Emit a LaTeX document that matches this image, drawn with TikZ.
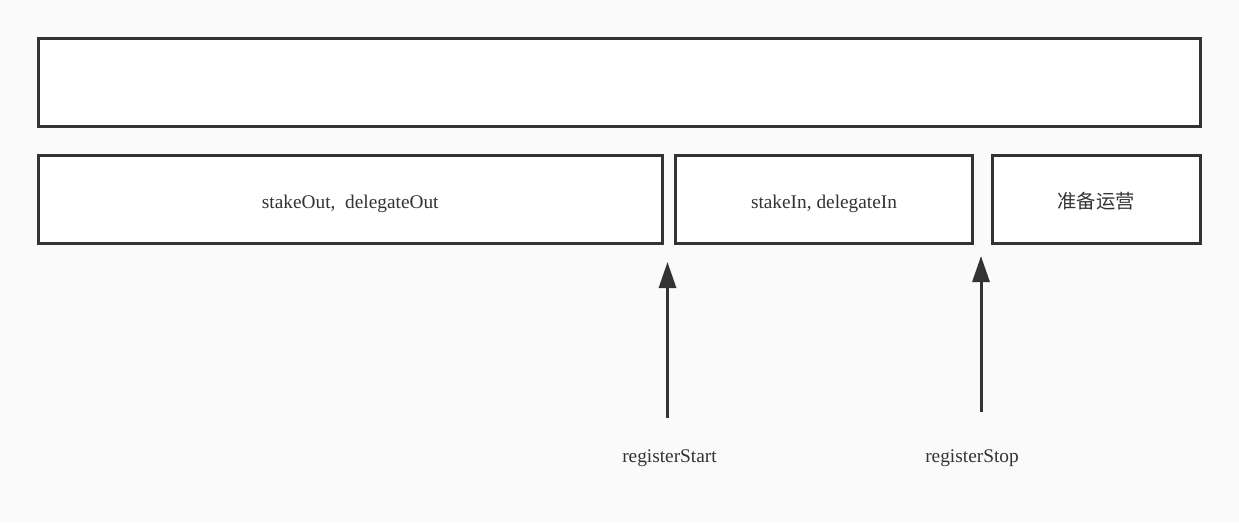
\documentclass[tikz,border=0pt]{standalone}
\usepackage{fontspec}
\setmainfont{Liberation Serif}
\newfontfamily\cjk{Noto Sans CJK SC}
\usetikzlibrary{arrows.meta}
\definecolor{ink}{HTML}{333333}
\definecolor{paper}{HTML}{FAFAFA}
\tikzset{
  stage/.style={draw=ink, fill=white, line width=2.25pt, rectangle,
    outer sep=0pt, inner sep=0pt, minimum height=65.625pt, text=ink,
    text height=13.5pt, text depth=0pt,
    font=\fontsize{14.5pt}{17pt}\selectfont},
  event/.style={text=ink, font=\fontsize{14.5pt}{17pt}\selectfont},
  trigger/.style={draw=ink, line width=2.25pt,
    -{Triangle[length=19.5pt, width=12.75pt]}}
}
\begin{document}
\begin{tikzpicture}[x=0.75pt, y=-0.75pt]
  \fill[paper] (0,0) rectangle (1239,522);
  \useasboundingbox (0,0) rectangle (1239,522);
  \node[stage, minimum width=871.125pt] (period) at (619.25,82.25) {};
  \node[stage, minimum width=467.625pt] (out) at (350.25,199.25) {stakeOut,\ \ delegateOut};
  \node[stage, minimum width=222.75pt] (in) at (824,199.25) {stakeIn, delegateIn};
  \node[stage, minimum width=155.625pt, font=\cjk\fontsize{14.5pt}{17pt}\selectfont] (ready) at (1096.25,199.25) {准备运营};
  \node[event] (regstart) at (669.5,458.5) {registerStart};
  \node[event] (regstop) at (972,458.5) {registerStop};
  \coordinate (starttail) at (667.5,418);
  \coordinate (starttip) at (667.5,262);
  \coordinate (stoptail) at (981,412);
  \coordinate (stoptip) at (981,256);
  \draw[trigger] (starttail) -- (starttip);
  \draw[trigger] (stoptail) -- (stoptip);
\end{tikzpicture}
\end{document}
